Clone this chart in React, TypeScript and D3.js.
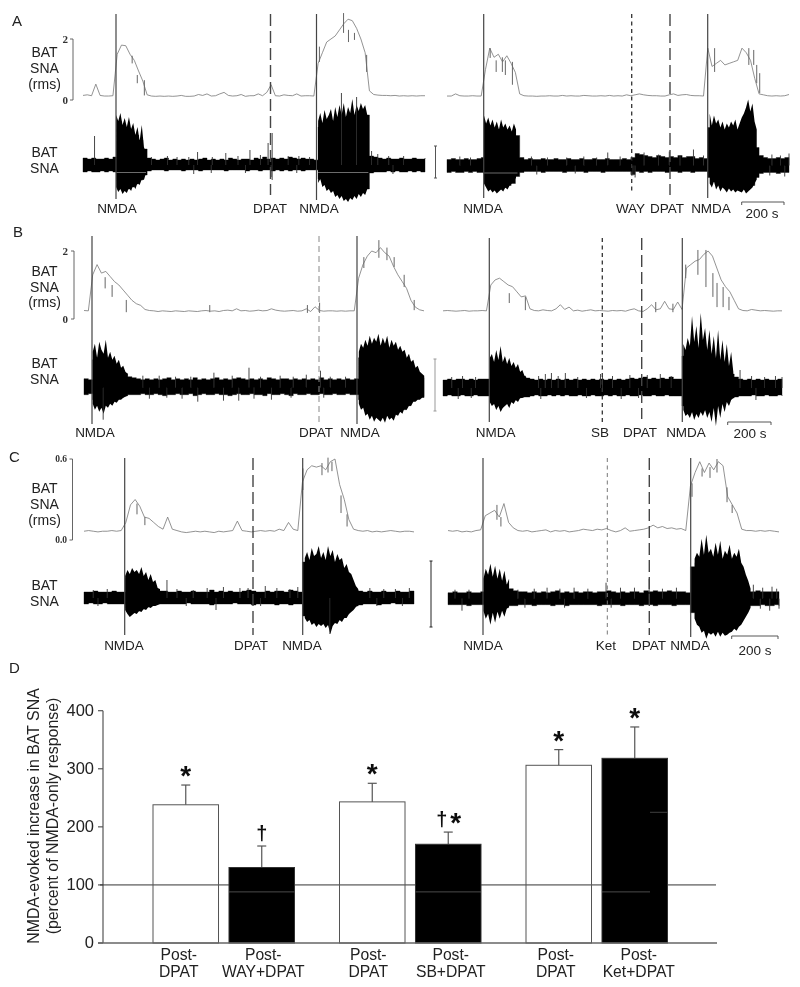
import React from "react";
import * as d3 from "d3";

const STEP = 20; // seconds between envelope samples
const FRINGE_STEP = 10; // seconds between burst-edge readings

// ---------- Panel A left
const aLeftRms = [.15,.17,.14,.52,.15,.13,.13,.14,1.5,1.8,
1.78,1.5,1.3,.95,.62,.17,.13,.12,.13,.12,
.13,.12,.13,.15,.12,.12,.13,.18,.15,.2,
.13,.14,.2,.25,.15,.13,.14,.18,.12,.14,
.14,.2,.14,.25,.5,.14,.13,.17,.15,.14,
.2,.13,.14,.14,.13,1.2,1.55,1.9,2.0,2.1,
2.3,2.5,2.65,2.6,2.35,2.0,1.55,.3,.18,.16,
.15,.15,.14,.15,.13,.14,.13,.14,.13,.14,.14];
const aLeftRmsDrops = [[230,1.2,1.45],[254,.55,.82],[287,.15,.65],[1327,.92,1.48],[1242,1.9,2.3],[1270,1.97,2.2],[1219,2.2,2.85],[1106,1.25,1.75]];
const aLeftUp = [7,6,7,6,6,7,6,8,38,36,
36,33,30,25,16,7,6,5,6,7,
5,6,5,6,5,6,5,6,7,5,
6,5,6,5,7,6,5,6,6,5,
7,6,8,6,7,6,7,6,8,7,
6,7,6,6,5,38,40,40,42,44,
46,46,48,48,50,50,50,9,8,7,
6,7,6,6,7,6,6,7,6,6,7];
const aLeftDown = [7,6,7,7,6,7,6,7,16,22,
24,22,19,15,10,6,5,5,5,6,
5,5,5,6,5,5,5,6,5,5,
5,5,5,6,5,5,5,5,6,5,
5,6,5,5,6,5,6,5,6,5,
5,6,5,5,5,14,18,22,24,27,
29,30,31,30,28,26,24,8,7,7,
7,6,7,6,7,7,6,7,6,7,6];
const aLeftSpikes = [[54,29],[536,13],[668,12],[781,15],[866,22],[885,32],[885,-15],[880,-12],[518,-9],[1209,72],[1280,68],[1350,14],[1379,11],[320,8],[395,9],[440,8],[495,8],[605,8],[725,9],[830,10],[960,9],[1010,9],[1060,8],[1430,9],[1500,9],[600,-8],[760,-8],[1000,-8],[1450,-9]];
const aLeftBursts = [
  { start: 155, up: [50,44,52,40,47,38,48,36,42,30,38,24,40,18,12], down: [22,27,24,29,26,28,23,26,20,24,18,20,14,15,8] },
  { start: 1100, up: [44,52,42,55,46,50,56,44,58,48,60,50,62,48,58,52,66,50,60,54,62,56,60,50], down: [18,14,22,20,26,24,28,26,32,30,34,31,36,34,37,33,35,31,34,29,32,28,30,24] },
];

// ---------- Panel A right
const aRightRms = [.13,.13,.2,.14,.13,.13,.14,.13,.13,1.0,
1.7,1.4,1.5,1.25,1.45,1.2,.9,.2,.14,.13,
.13,.12,.13,.13,.14,.13,.13,.15,.13,.14,
.13,.13,.15,.14,.13,.13,.14,.13,.15,.13,
.14,.13,.17,.14,.17,.2,.17,.15,.14,.14,
.13,.13,.17,.2,.15,.17,.18,.15,.14,.14,
.13,1.7,1.1,1.2,1.3,1.15,1.2,1.25,1.3,1.7,
1.55,1.3,.7,.2,.17,.14,.13,.14,.13,.14,.18];
const aRightRmsDrops = [[202,1.38,1.7],[230,.92,1.3],[259,.92,1.4],[273,.82,1.3],[306,.5,1.25],[1252,.92,1.7],[1412,1.15,1.7],[1435,1.15,1.64],[1463,.23,.88],[1449,.55,1.15]];
const aRightUp = [6,7,6,6,7,6,6,7,8,38,
38,36,36,34,33,32,30,8,6,7,
6,6,7,6,6,7,6,6,7,6,
6,7,6,6,7,6,6,7,6,6,
6,7,6,8,12,11,10,9,8,10,
9,8,9,8,10,8,9,9,7,8,
7,38,36,34,34,32,33,32,34,36,
42,38,18,10,8,7,7,8,7,8,8];
const aRightDown = [7,6,7,7,6,7,6,7,7,12,
18,22,23,22,20,18,11,7,6,6,
6,6,7,6,6,6,6,7,6,6,
6,6,7,6,6,6,7,6,6,6,
6,6,6,9,6,7,6,7,6,6,
6,7,6,6,7,6,6,7,6,6,
6,12,16,18,20,20,20,21,22,22,
22,20,12,8,7,7,7,8,7,7,7];
const aRightSpikes = [[752,13],[922,13],[1040,14],[1153,16],[870,-10],[60,9],[110,8],[395,9],[470,8],[560,8],[640,9],[700,8],[810,9],[990,11],[1090,10],[1200,10],[1520,11],[1560,10],[1600,12],[420,-9],[600,-8],[880,-12],[1510,-10],[1580,-11]];
const aRightBursts = [
  { start: 173, up: [50,42,48,40,46,38,44,36,46,38,42,36,40,34,42,36], down: [18,22,26,24,27,25,28,26,24,26,22,24,20,18,16,12] },
  { start: 1229, up: [52,40,50,42,46,38,44,36,42,38,44,40,46,36,42,48,52,58,66,54,62,44,36], down: [18,22,16,24,20,26,22,24,27,23,26,24,27,25,26,27,24,28,26,24,22,18,14] },
];

// ---------- Panel B left
const bLeftRms = [.25,.24,1.3,1.6,1.35,1.4,1.25,1.1,1.0,.85,
.7,.55,.45,.4,.28,.25,.24,.22,.24,.23,
.22,.24,.23,.22,.24,.23,.22,.24,.25,.23,
.24,.22,.25,.26,.24,.3,.24,.25,.23,.24,
.26,.24,.25,.3,.26,.24,.23,.24,.25,.23,
.24,.3,.22,.36,.25,.23,.24,.24,.23,.24,
.23,.24,.24,1.2,1.6,1.85,2.0,1.95,2.1,1.95,
1.85,1.55,1.3,1.1,.9,.55,.35,.27,.24];
const bLeftRmsDrops = [[194,.2,.56],[97,.9,1.23],[129,.65,1.0],[1284,1.5,1.82],[1353,1.8,2.32],[1390,1.73,2.1],[1423,1.53,1.82],[1469,.94,1.3],[1515,.26,.56],[577,.2,.41],[1025,.18,.41],[1081,.18,.48]];
const bLeftUp = [9,8,28,30,28,26,23,20,18,14,
11,10,9,8,9,8,9,8,9,10,
8,9,8,9,8,10,8,9,8,9,
10,8,9,8,9,10,9,8,9,8,
9,8,10,9,8,9,9,8,9,8,
9,8,9,8,10,8,9,8,9,8,
9,8,9,30,34,38,40,40,42,38,
38,34,32,28,22,16,12,10,10];
const bLeftDown = [7,6,12,16,15,14,12,11,10,8,
7,7,7,6,7,7,6,7,8,7,
7,6,7,7,6,8,7,6,7,7,
6,7,7,8,7,6,7,7,6,7,
7,8,6,7,7,6,7,8,6,7,
7,6,7,7,6,7,7,6,7,7,
6,7,7,12,18,22,25,26,27,27,
26,26,24,22,18,13,10,9,9];
const bLeftSpikes = [[522,-14],[596,15],[757,20],[1085,17],[88,-32],[300,-11],[640,-13],[710,-13],[860,-12],[270,12],[345,12],[420,11],[490,11],[680,12],[810,11],[900,12],[960,11],[1020,13],[1130,11],[1200,11],[380,-10],[450,-11],[780,-11],[950,-10],[1100,-10]];
const bLeftBursts = [
  { start: 40, up: [36,44,30,46,38,34,48,30,36,28,32,24,28,20,22,16,14], down: [16,22,18,24,20,26,18,20,16,18,14,15,12,12,10,9,8] },
  { start: 1261, up: [36,44,40,48,42,52,44,50,46,54,42,50,44,52,40,48,42,46,38,42,36,38,30,34,26,28,20,22,16,14,12], down: [16,22,20,28,26,32,28,34,30,32,34,30,35,28,32,30,33,27,28,24,26,20,22,18,18,14,14,12,12,10,10] },
];

// ---------- Panel B right
const bRightRms = [.24,.25,.24,.23,.24,.25,.23,.24,.24,.25,
.24,1.0,1.15,1.2,1.1,1.0,.95,.8,.65,.68,
.3,.25,.24,.27,.25,.24,.3,.42,.28,.35,
.24,.26,.23,.25,.27,.24,.25,.24,.23,.25,
.24,.25,.23,.27,.3,.24,.22,.3,.42,.27,
.3,.52,.3,.28,.5,.28,1.5,1.6,1.7,1.75,
1.9,2.0,1.85,1.5,1.15,.95,.8,.55,.3,.25,
.24,.28,.26,.24,.25,.24,.23,.24,.24];
const bRightRmsDrops = [[379,.26,.65],[305,.47,.76],[1173,1.3,2.03],[1210,.94,2.03],[1242,.65,1.35],[1261,.35,1.06],[1289,.35,.94],[1316,.26,.65],[1117,1.2,1.6],[979,.2,.5],[1058,.2,.45]];
const bRightUp = [8,9,8,9,9,8,9,8,9,9,
9,22,24,23,21,20,18,15,12,10,
9,8,9,8,9,8,9,8,9,8,
9,8,9,8,9,8,9,8,9,8,
9,8,9,10,9,10,11,9,10,9,
10,9,11,9,9,32,34,36,34,32,
30,28,26,24,22,18,14,11,9,8,
9,8,9,8,9,8,8,9,8];
const bRightDown = [8,7,8,8,7,8,8,7,8,8,
8,10,14,16,15,14,12,10,9,9,
8,7,8,8,7,8,7,8,7,8,
8,7,8,8,7,8,8,7,8,7,
8,8,7,8,8,7,8,8,7,8,
8,7,8,8,8,18,22,24,24,23,
22,20,19,17,15,13,10,9,8,8,
8,7,8,8,7,8,8,7,8];
const bRightSpikes = [[471,14],[499,15],[563,15],[725,14],[734,12],[1367,18],[660,-10],[820,-11],[40,11],[90,12],[150,11],[440,12],[530,12],[620,11],[780,12],[860,13],[940,13],[1000,14],[1050,12],[1420,12],[1480,11],[1530,12],[1560,11],[70,-11],[130,-10],[450,-11],[900,-10],[1440,-12]];
const bRightBursts = [
  { start: 215, up: [30,34,26,38,28,42,26,32,24,30,22,26,20,24,16,18,12,10], down: [14,18,16,22,18,24,20,18,16,20,14,16,12,14,10,10,9,8] },
  { start: 1106, up: [44,38,50,42,72,46,62,40,75,48,60,38,58,34,52,30,58,28,48,26,44,22,36,16], down: [22,28,26,30,24,32,26,30,24,28,22,30,24,34,20,38,18,30,16,24,14,18,12,10] },
];

// ---------- Panel C left
const cLeftRms = [.065,.07,.065,.06,.065,.065,.07,.065,.07,.13,
.26,.3,.25,.17,.16,.13,.1,.08,.17,.08,
.07,.06,.055,.06,.065,.06,.065,.06,.055,.065,
.06,.065,.07,.14,.07,.065,.06,.065,.07,.065,
.07,.065,.08,.07,.13,.08,.07,.43,.52,.55,
.54,.55,.52,.58,.6,.41,.3,.15,.08,.07,
.065,.07,.06,.065,.06,.065,.07,.065,.06,.065,.065,.06];
const cLeftRmsDrops = [[1106,.2,.33],[1132,.1,.19],[942,.37,.53],[1024,.48,.57],[1050,.5,.61],[1067,.51,.58],[228,.19,.27],[262,.11,.17]];
const cLeftUp = [6,6,7,6,6,6,7,6,6,20,
22,21,21,17,12,7,7,7,6,6,
7,6,6,7,6,6,6,8,6,7,
6,7,6,6,7,8,7,6,6,7,
6,7,7,6,8,7,6,36,36,36,
36,36,34,34,33,30,22,13,8,7,
6,7,6,6,7,6,6,7,6,6,7,6];
const cLeftDown = [6,5,6,6,5,6,6,6,6,10,
14,13,11,9,7,6,6,6,6,6,
6,6,5,6,6,6,6,7,6,6,
6,6,5,6,6,6,7,6,6,6,
6,7,6,6,7,6,6,18,21,23,
24,24,23,24,22,20,16,10,8,7,
6,6,6,7,6,6,5,6,6,6,6,6];
const cLeftSpikes = [[357,18],[568,-12],[671,10],[706,10],[886,9],[1058,-36],[40,8],[100,9],[400,9],[470,8],[530,10],[600,11],[780,12],[830,10],[920,11],[1230,10],[1290,9],[1340,9],[1400,10],[60,-8],[440,-8],[760,-8],[1260,-8],[1370,-8]];
const cLeftBursts = [
  { start: 177, up: [22,28,24,30,26,28,24,31,22,26,18,24,16,18,10,9], down: [12,16,19,17,15,16,13,14,11,12,9,10,8,8,7,6] },
  { start: 950, up: [40,46,38,50,42,44,52,40,46,38,52,42,48,36,44,38,40,30,34,26,24,18,12,9], down: [20,24,22,27,25,29,26,28,26,30,27,36,28,25,26,22,24,20,20,16,14,12,9,7] },
];

// ---------- Panel C right
const cRightRms = [.07,.065,.07,.06,.065,.06,.07,.075,.18,.2,
.22,.17,.27,.13,.09,.07,.065,.07,.06,.065,
.07,.075,.06,.07,.065,.07,.06,.065,.07,.08,
.075,.07,.08,.075,.085,.07,.06,.07,.09,.065,
.07,.075,.08,.09,.11,.09,.1,.085,.09,.08,
.085,.07,.4,.5,.58,.5,.57,.52,.58,.55,
.32,.26,.2,.08,.07,.07,.065,.07,.065,.07,.065,.06];
const cRightRmsDrops = [[210,.15,.26],[227,.1,.17],[1090,.47,.53],[1124,.46,.54],[1154,.5,.6],[1197,.28,.39],[1219,.2,.26],[1047,.32,.42]];
const cRightUp = [6,7,6,6,7,6,6,7,14,18,
18,16,14,10,8,7,7,6,7,6,
7,6,7,8,6,7,6,7,6,7,
7,6,7,7,8,7,6,7,6,7,
7,6,8,7,8,7,7,8,7,7,
7,6,32,36,36,38,36,36,36,34,
30,22,14,8,7,7,8,7,7,7,7,6];
const cRightDown = [6,6,6,6,7,6,6,6,8,11,
11,10,9,7,7,6,6,6,7,6,
6,6,7,6,6,7,6,6,6,6,
6,6,7,6,6,6,6,7,6,6,
6,7,6,6,7,6,6,6,7,6,
6,6,14,20,24,28,29,30,30,29,
27,22,15,9,7,7,7,6,7,7,6,7];
const cRightSpikes = [[678,16],[863,20],[425,11],[541,11],[60,-12],[330,-9],[1380,-12],[1420,-10],[30,9],[90,9],[300,9],[370,10],[480,10],[600,10],[740,11],[800,11],[920,10],[980,11],[1350,11],[1390,12],[1410,10],[1310,14],[500,-9],[700,-9],[1340,-10]];
const cRightBursts = [
  { start: 152, up: [20,30,24,35,22,33,20,30,18,28,14,20], down: [12,20,15,26,14,24,13,20,12,18,10,8] },
  { start: 1058, up: [40,46,42,60,44,64,46,50,42,56,44,58,40,48,44,54,40,46,42,50,36,32,24,18,10], down: [20,26,28,34,32,40,34,36,34,38,33,38,34,37,36,34,33,30,32,28,26,22,18,14,9] },
];

// ---------- Panel D
const groups = ["WAY", "SB", "Ket"];
const conditions = ["control", "drug"];
const barValues = [[238, 130], [243, 170], [306, 318]];
const barErrors = [[272, 167], [275, 191], [333, 372]];
const barLabels = [["DPAT", "WAY+DPAT"], ["DPAT", "SB+DPAT"], ["DPAT", "Ket+DPAT"]];
const barStars = [[true, false], [true, true], [true, true]];
const barDaggers = [[false, true], [false, true], [false, false]];
const labelShift = [[-7, 1.5], [-4, 2.5], [-3, 4]];
const yTicks = [0, 100, 200, 300, 400];

type Ev = { x: number; label: string; lx: number; kind: string; y2: number };
type Burst = { start: number; up: number[]; down: number[] };
type Panel = {
  rms: number[]; drops: number[][]; up: number[]; down: number[]; spikes: number[][]; bursts: Burst[];
  x0: number; x1: number; rms0: number; rmsTop: number; rmsMax: number; centre: number;
  top: number; labelY: number; events: Ev[]; artefact?: number[][];
};

const panels: Panel[] = [
  { rms: aLeftRms, drops: aLeftRmsDrops, up: aLeftUp, down: aLeftDown, spikes: aLeftSpikes, bursts: aLeftBursts, x0: 83, x1: 425, rms0: 100, rmsTop: 39, rmsMax: 2, centre: 165, top: 14, labelY: 208,
    artefact: [[155, 295], [1100, 1335]],
    events: [{ x: 116, label: "NMDA", lx: 117, kind: "solid", y2: 199 }, { x: 270.5, label: "DPAT", lx: 270, kind: "dash", y2: 195 }, { x: 316.5, label: "NMDA", lx: 319, kind: "solid", y2: 200 }] },
  { rms: aRightRms, drops: aRightRmsDrops, up: aRightUp, down: aRightDown, spikes: aRightSpikes, bursts: aRightBursts, x0: 447, x1: 789, rms0: 100, rmsTop: 39, rmsMax: 2, centre: 165.5, top: 14, labelY: 208,
    artefact: [[173, 330]],
    events: [{ x: 483.7, label: "NMDA", lx: 483, kind: "solid", y2: 198 }, { x: 631.7, label: "WAY", lx: 630.5, kind: "dot", y2: 193 }, { x: 670, label: "DPAT", lx: 667, kind: "dash", y2: 195 }, { x: 707.7, label: "NMDA", lx: 711, kind: "solid", y2: 198 }] },
  { rms: bLeftRms, drops: bLeftRmsDrops, up: bLeftUp, down: bLeftDown, spikes: bLeftSpikes, bursts: bLeftBursts, x0: 84, x1: 424, rms0: 319, rmsTop: 251, rmsMax: 2, centre: 387.7, top: 236, labelY: 432,
    events: [{ x: 92, label: "NMDA", lx: 95, kind: "solid", y2: 424 }, { x: 319, label: "DPAT", lx: 316, kind: "thin", y2: 423 }, { x: 357, label: "NMDA", lx: 360, kind: "solid", y2: 424 }] },
  { rms: bRightRms, drops: bRightRmsDrops, up: bRightUp, down: bRightDown, spikes: bRightSpikes, bursts: bRightBursts, x0: 443, x1: 782, rms0: 319, rmsTop: 251, rmsMax: 2, centre: 388, top: 238, labelY: 432,
    events: [{ x: 489.3, label: "NMDA", lx: 495.7, kind: "solid", y2: 422 }, { x: 602.3, label: "SB", lx: 600, kind: "dot", y2: 422 }, { x: 641.7, label: "DPAT", lx: 640, kind: "dash", y2: 419 }, { x: 682.3, label: "NMDA", lx: 686, kind: "solid", y2: 422 }] },
  { rms: cLeftRms, drops: cLeftRmsDrops, up: cLeftUp, down: cLeftDown, spikes: cLeftSpikes, bursts: cLeftBursts, x0: 84, x1: 414, rms0: 540, rmsTop: 459, rmsMax: .6, centre: 598, top: 458, labelY: 645,
    events: [{ x: 124.7, label: "NMDA", lx: 124, kind: "solid", y2: 635 }, { x: 253, label: "DPAT", lx: 251, kind: "dash", y2: 635 }, { x: 302.7, label: "NMDA", lx: 302, kind: "solid", y2: 635 }] },
  { rms: cRightRms, drops: cRightRmsDrops, up: cRightUp, down: cRightDown, spikes: cRightSpikes, bursts: cRightBursts, x0: 448, x1: 779, rms0: 540, rmsTop: 459, rmsMax: .6, centre: 598.7, top: 458, labelY: 645,
    events: [{ x: 483, label: "NMDA", lx: 483, kind: "solid", y2: 635 }, { x: 607.3, label: "Ket", lx: 606, kind: "dotThin", y2: 635 }, { x: 649.3, label: "DPAT", lx: 649, kind: "dash", y2: 635 }, { x: 690.7, label: "NMDA", lx: 690, kind: "solid", y2: 637 }] },
];

const rowAxes = [
  { x: 73, top: 39, bottom: 100, hi: "2", lo: "0", lx: 68, size: 11 },
  { x: 74, top: 251, bottom: 319, hi: "2", lo: "0", lx: 68, size: 11 },
  { x: 72.5, top: 459, bottom: 540, hi: "0.6", lo: "0.0", lx: 67, size: 9.5 },
];
const rowText = [
  { rms: [52, 68, 84], raw: [152, 168], letter: "A", lx: 12, ly: 21 },
  { rms: [271, 287, 302], raw: [363, 379], letter: "B", lx: 13, ly: 232 },
  { rms: [488, 504, 520], raw: [585, 601], letter: "C", lx: 9, ly: 457 },
];
const calibration = [
  { x: 435.5, y1: 146, y2: 178, c: "#555" },
  { x: 435, y1: 359, y2: 411, c: "#999" },
  { x: 431, y1: 561, y2: 627, c: "#222" },
];
const timeBars = [
  { x1: 741.7, x2: 784, y: 202, tx: 762, ty: 213 },
  { x1: 727.7, x2: 771, y: 422, tx: 750, ty: 433 },
  { x1: 731.7, x2: 778, y: 636, tx: 755, ty: 650 },
];

const SANS = "'Liberation Sans', Arial, sans-serif";
const SERIF = "'Liberation Serif', serif";

function eventStyle(kind: string) {
  if (kind === "dash") return { stroke: "#444", strokeWidth: 1.4, strokeDasharray: "12 5" };
  if (kind === "dot") return { stroke: "#333", strokeWidth: 1.3, strokeDasharray: "4 3.5" };
  if (kind === "dotThin") return { stroke: "#777", strokeWidth: 1, strokeDasharray: "4 3.5" };
  if (kind === "thin") return { stroke: "#888", strokeWidth: 1, strokeDasharray: "6 4" };
  return { stroke: "#444", strokeWidth: 1.2 };
}

function Trace({ p }: { p: Panel }) {
  const t = d3.scaleLinear().domain([0, (p.up.length - 1) * STEP]).range([p.x0, p.x1]);
  const rmsY = d3.scaleLinear().domain([0, p.rmsMax]).range([p.rms0, p.rmsTop]);
  const rawY = d3.scaleLinear().domain([-100, 100]).range([p.centre + 100, p.centre - 100]);
  const rmsPath = d3.line<number>().x((_, i) => t(i * STEP)).y((d) => rmsY(d))(p.rms) || "";
  const rawPath = d3.area<number>().x((_, i) => t(i * STEP)).y1((d) => rawY(d)).y0((_, i) => rawY(-p.down[i])).curve(d3.curveStepAfter)(p.up) || "";
  return (
    <g>
      <path d={rmsPath} fill="none" stroke="#777" strokeWidth={0.8} />
      {p.drops.map(([s, lo, hi], i) => (
        <line key={i} x1={t(s)} x2={t(s)} y1={rmsY(lo)} y2={rmsY(hi)} stroke="#666" strokeWidth={1} />
      ))}
      <path d={rawPath} fill="#000" stroke="#111" strokeWidth={0.4} />
      {p.bursts.map((b, bi) => {
        const burstPath = d3.area<number>()
          .x((_, i) => t(b.start + i * FRINGE_STEP))
          .y1((d) => rawY(d))
          .y0((_, i) => rawY(-b.down[i]))(b.up) || "";
        return <path key={bi} d={burstPath} fill="#000" />;
      })}
      {p.spikes.map(([s, a], i) => (
        <line key={i} x1={t(s)} x2={t(s)} y1={rawY(0)} y2={rawY(a)} stroke="#333" strokeWidth={0.9} />
      ))}
      {(p.artefact || []).map(([a, b], i) => (
        <line key={i} x1={t(a)} x2={t(b)} y1={rawY(-7.5)} y2={rawY(-7.5)} stroke="#888" strokeWidth={0.8} />
      ))}
      {p.events.map((e, i) => (
        <g key={i}>
          <line x1={e.x} x2={e.x} y1={p.top} y2={e.y2} {...eventStyle(e.kind)} />
          <text x={e.lx} y={p.labelY} dy="0.35em" textAnchor="middle" fontSize={13.5} fontFamily={SANS} fill="#222">{e.label}</text>
        </g>
      ))}
    </g>
  );
}

function Bars() {
  const y = d3.scaleLinear().domain([0, 400]).range([943, 710.7]);
  const outer = d3.scaleBand<string>().domain(groups).range([153, 667.5]).paddingInner(0.2413);
  const inner = d3.scaleBand<string>().domain(conditions).range([0, outer.bandwidth()]).paddingInner(0.138);
  const bw = inner.bandwidth();
  return (
    <g>
      <text transform="translate(33,816) rotate(-90)" textAnchor="middle" dy="0.35em" fontSize={15.9} fontFamily={SANS} fill="#222">NMDA-evoked increase in BAT SNA</text>
      <text transform="translate(52,816) rotate(-90)" textAnchor="middle" dy="0.35em" fontSize={15.9} fontFamily={SANS} fill="#222">(percent of NMDA-only response)</text>
      <line x1={103} x2={103} y1={y(400)} y2={y(0)} stroke="#555" strokeWidth={1.2} />
      {yTicks.map((v) => (
        <g key={v}>
          <line x1={98} x2={103} y1={y(v)} y2={y(v)} stroke="#555" strokeWidth={1.2} />
          <text x={94} y={y(v) - 0.5} dy="0.35em" textAnchor="end" fontSize={16.5} fontFamily={SANS} fill="#222">{v}</text>
        </g>
      ))}
      <line x1={100} x2={716} y1={y(100)} y2={y(100)} stroke="#333" strokeWidth={1} />
      {groups.map((g, gi) =>
        conditions.map((c, ci) => {
          const x = (outer(g) as number) + (inner(c) as number);
          const v = barValues[gi][ci];
          const e = barErrors[gi][ci];
          const cx = x + bw / 2;
          const black = ci === 1;
          const both = barStars[gi][ci] && barDaggers[gi][ci];
          return (
            <g key={g + c}>
              <line x1={cx} x2={cx} y1={y(v)} y2={y(e)} stroke="#555" strokeWidth={1.2} />
              <line x1={cx - 4.5} x2={cx + 4.5} y1={y(e)} y2={y(e)} stroke="#555" strokeWidth={1.2} />
              <rect x={x} y={y(v)} width={bw} height={y(0) - y(v)} fill={black ? "#000" : "none"} stroke={black ? "#333" : "#555"} strokeWidth={1} />
              {black && <line x1={x} x2={gi === 2 ? x + 48 : x + bw} y1={y(88)} y2={y(88)} stroke="#555" strokeWidth={0.9} />}
              {black && gi === 2 && <line x1={x + 48} x2={x + bw} y1={y(225)} y2={y(225)} stroke="#444" strokeWidth={0.9} />}
              <text x={cx + labelShift[gi][ci]} y={955} dy="0.35em" textAnchor="middle" fontSize={15.7} fontFamily={SANS} fill="#222">Post-</text>
              <text x={cx + labelShift[gi][ci]} y={972} dy="0.35em" textAnchor="middle" fontSize={15.7} fontFamily={SANS} fill="#222">{barLabels[gi][ci]}</text>
              {barStars[gi][ci] && <text x={both ? cx + 7.5 : cx} y={y(e)} textAnchor="middle" fontSize={28} fontWeight={700} fontFamily={SANS} fill="#111">*</text>}
              {barDaggers[gi][ci] && <text x={both ? cx - 6.5 : cx} y={y(e) - 6} textAnchor="middle" fontSize={20} fontWeight={700} fontFamily={SANS} fill="#111">†</text>}
            </g>
          );
        })
      )}
      <line x1={98} x2={717} y1={y(0)} y2={y(0)} stroke="#666" strokeWidth={1.4} />
    </g>
  );
}

export default function App() {
  return (
    <svg width={800} height={987} style={{ position: "absolute", left: 0, top: 0, background: "#fff" }}>
      <defs>
        <filter id="soft" x="0" y="0" width="100%" height="100%">
          <feGaussianBlur stdDeviation="0.3" />
        </filter>
      </defs>
      <g filter="url(#soft)">
        <rect width={800} height={987} fill="#fff" />
        {panels.map((p, i) => <Trace key={i} p={p} />)}
        {rowText.map((r) => (
          <g key={r.letter} fontFamily={SANS} fill="#222" fontSize={14}>
            <text x={r.lx} y={r.ly} dy="0.35em" fontSize={15}>{r.letter}</text>
            {["BAT", "SNA", "(rms)"].map((s, i) => (
              <text key={s} x={44.5} y={r.rms[i]} dy="0.35em" textAnchor="middle">{s}</text>
            ))}
            {["BAT", "SNA"].map((s, i) => (
              <text key={s} x={44.5} y={r.raw[i]} dy="0.35em" textAnchor="middle">{s}</text>
            ))}
          </g>
        ))}
        {rowAxes.map((a, i) => (
          <g key={i} stroke="#555" strokeWidth={0.9}>
            <path d={`M${a.x - 3},${a.top}H${a.x}V${a.bottom}H${a.x - 3}`} fill="none" />
            <text x={a.lx} y={a.top} dy="0.35em" textAnchor="end" fontSize={a.size} fontFamily={SERIF} fontWeight={700} fill="#333" stroke="none">{a.hi}</text>
            <text x={a.lx} y={a.bottom} dy="0.35em" textAnchor="end" fontSize={a.size} fontFamily={SERIF} fontWeight={700} fill="#333" stroke="none">{a.lo}</text>
          </g>
        ))}
        {calibration.map((c, i) => (
          <path key={i} d={`M${c.x - 1.5},${c.y1}h3M${c.x},${c.y1}V${c.y2}M${c.x - 1.5},${c.y2}h3`} fill="none" stroke={c.c} strokeWidth={1} />
        ))}
        {timeBars.map((b, i) => (
          <g key={i}>
            <path d={`M${b.x1},${b.y + 3}V${b.y}H${b.x2}V${b.y + 3}`} fill="none" stroke="#444" strokeWidth={0.9} />
            <text x={b.tx} y={b.ty} dy="0.35em" textAnchor="middle" fontSize={13.5} fontFamily={SANS} fill="#222">200 s</text>
          </g>
        ))}
        <text x={9} y={668} dy="0.35em" fontSize={15} fontFamily={SANS} fill="#222">D</text>
        <Bars />
      </g>
    </svg>
  );
}
